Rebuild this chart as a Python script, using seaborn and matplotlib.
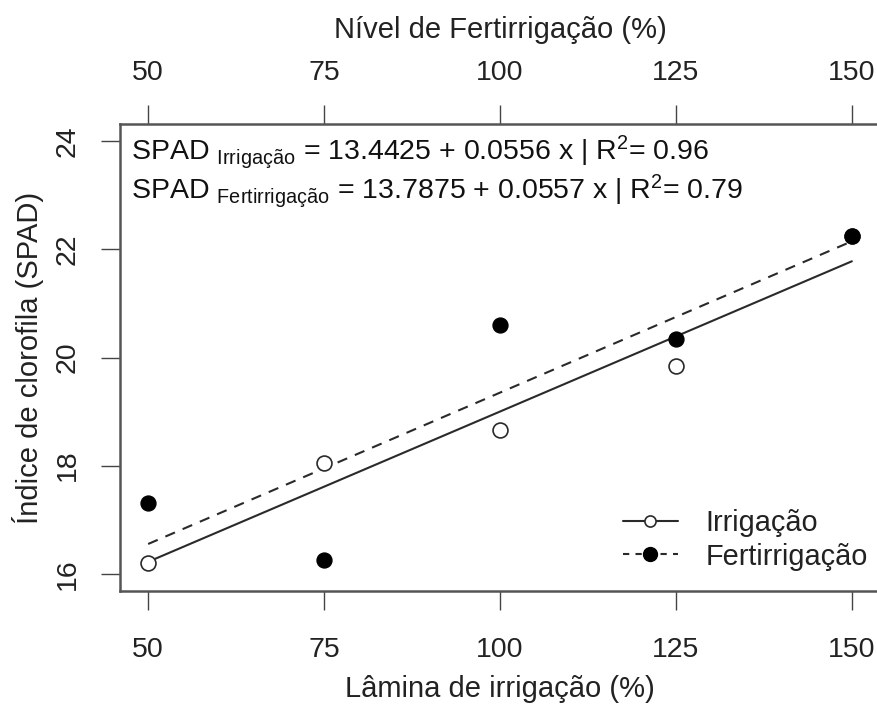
import matplotlib
matplotlib.use("Agg")
import matplotlib.pyplot as plt
from matplotlib.lines import Line2D
import seaborn as sns
import pandas as pd

# ---- data ----
levels = [50, 75, 100, 125, 150]
irrigacao = [16.20, 18.05, 18.65, 19.85, 22.25]
fertirrigacao = [17.30, 16.25, 20.60, 20.35, 22.25]
x_ticks = [50, 75, 100, 125, 150]
y_ticks = [16, 18, 20, 22, 24]
eq_irr = r"SPAD ${}_{\mathrm{Irrigação}}$ = 13.4425 + 0.0556 x | R$^{2}$= 0.96"
eq_fer = r"SPAD ${}_{\mathrm{Fertirrigação}}$ = 13.7875 + 0.0557 x | R$^{2}$= 0.79"

df_irr = pd.DataFrame({"x": levels, "y": irrigacao})
df_fer = pd.DataFrame({"x": levels, "y": fertirrigacao})

sns.set_style("white")
plt.rcParams["font.family"] = ["Liberation Sans", "DejaVu Sans"]
plt.rcParams["mathtext.fontset"] = "custom"
plt.rcParams["mathtext.rm"] = "Liberation Sans"
plt.rcParams["mathtext.it"] = "Liberation Sans:italic"
plt.rcParams["mathtext.bf"] = "Liberation Sans:bold"

W, H = 877, 711
fig = plt.figure(figsize=(W / 100, H / 100), dpi=100)
fig.patch.set_facecolor("white")
left, right, top, bottom = 120, 880, 124, 591
ax = fig.add_axes([left / W, 1 - bottom / H, (right - left) / W, (bottom - top) / H])

lc = "#2a2a2a"
tc = "#222222"
# regression lines
sns.regplot(data=df_irr, x="x", y="y", ax=ax, scatter=False, ci=None,
            line_kws=dict(color=lc, lw=1.5, ls="-", zorder=2))
sns.regplot(data=df_fer, x="x", y="y", ax=ax, scatter=False, ci=None,
            line_kws=dict(color=lc, lw=1.5, dashes=(5, 4), zorder=2))
# points
sns.scatterplot(data=df_irr, x="x", y="y", ax=ax, marker="o", s=115,
                facecolor="white", edgecolor=lc, linewidth=1.2, zorder=3)
sns.scatterplot(data=df_fer, x="x", y="y", ax=ax, marker="o", s=115,
                color="black", edgecolor="black", linewidth=1.0, zorder=4)

ax.set_xlim(46, 154)
ax.set_ylim(15.68, 24.32)
ax.set_xticks(x_ticks)
ax.set_xticklabels([str(v) for v in x_ticks])
ax.set_yticks(y_ticks)
ax.set_yticklabels([str(v) for v in y_ticks], rotation=90, va="center")

for s in ax.spines.values():
    s.set_color("#555555")
    s.set_linewidth(1.8)

ax.tick_params(axis="both", direction="out", length=14, width=1.0,
               color="#444444", labelsize=20.5, labelcolor=tc)
ax.tick_params(axis="x", pad=19)
ax.tick_params(axis="y", pad=14)
ax.tick_params(bottom=True, left=True)

ax.set_xlabel("Lâmina de irrigação (%)", fontsize=21, color=tc, labelpad=9)
ax.set_ylabel("Índice de clorofila (SPAD)", fontsize=21, color=tc)
ax.yaxis.set_label_coords(-0.1, 0.5)

sec = ax.secondary_xaxis("top")
sec.set_xticks(x_ticks)
sec.set_xticklabels([str(v) for v in x_ticks])
sec.tick_params(axis="x", direction="out", length=14, width=1.0,
                color="#444444", labelsize=20.5, labelcolor=tc, pad=13)
sec.spines["top"].set_visible(False)
sec.set_xlabel("Nível de Fertirrigação (%)", fontsize=21, color=tc, labelpad=16.5)

ax.text(47.6, 23.8, eq_irr, fontsize=20.5, color="#111111", va="center", ha="left")
ax.text(47.6, 23.08, eq_fer, fontsize=20.5, color="#111111", va="center", ha="left")

handles = [
    Line2D([], [], color=lc, lw=1.5, ls="-", marker="o", markersize=8,
           markerfacecolor="white", markeredgecolor=lc, markeredgewidth=1.2),
    Line2D([], [], color=lc, lw=1.5, dashes=(3, 3), marker="o", markersize=10,
           markerfacecolor="black", markeredgecolor="black"),
]
ax.legend(handles, ["Irrigação", "Fertirrigação"], loc="lower right",
          bbox_to_anchor=(1.018, -0.012), frameon=False, fontsize=20.8,
          handlelength=1.9, handletextpad=0.95, labelspacing=0.2,
          labelcolor=tc)

fig.savefig("out.png", dpi=100, facecolor="white")
